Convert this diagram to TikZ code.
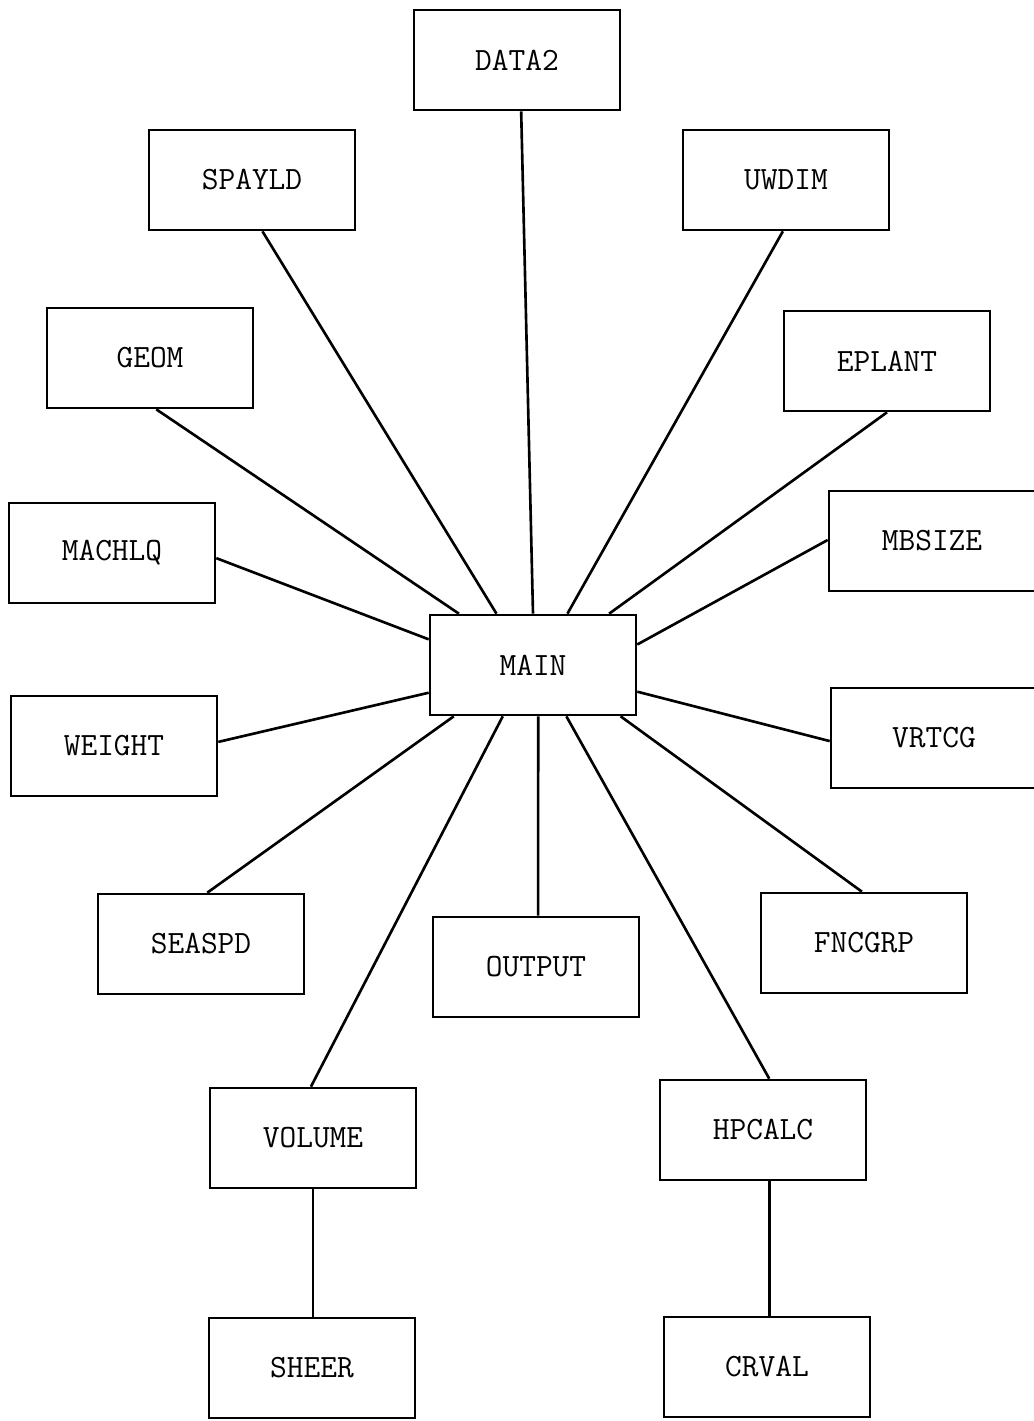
\documentclass[tikz,border=0pt]{standalone}
\usepackage{tikz}
\usetikzlibrary{calc}

\begin{document}
\begin{tikzpicture}[x=0.02cm, y=-0.02cm]
        % Define styles for the boxes and the links
        \tikzset{
            module/.style={draw, line width=1.5pt, minimum width=4.12cm, minimum height=2cm,
                inner sep=0pt, font=\fontsize{18.5}{22}\selectfont\ttfamily},
            link/.style={line width=1.5pt, black}
        }

        \useasboundingbox (0,0) rectangle (1034,1421);
        \clip (0,0) rectangle (1034,1421);

        % The main program in the middle
        \node[module] (main) at (533,665) {MAIN};

        % Routines above the main program
        \node[module] (data2) at (517,60) {DATA2};
        \node[module] (spayld) at (252,180) {SPAYLD};
        \node[module] (uwdim) at (786,180) {UWDIM};
        \node[module] (geom) at (150,358) {GEOM};
        \node[module] (eplant) at (887,361) {EPLANT};

        % Routines at the sides
        \node[module] (machlq) at (112,553) {MACHLQ};
        \node[module] (weight) at (114,746) {WEIGHT};
        \node[module] (mbsize) at (932,541) {MBSIZE};
        \node[module] (vrtcg) at (934,738) {VRTCG};

        % Routines below the main program
        \node[module] (seaspd) at (201,944) {SEASPD};
        \node[module] (output) at (536,967) {OUTPUT};
        \node[module] (fncgrp) at (864,943) {FNCGRP};
        \node[module] (volume) at (313,1138) {VOLUME};
        \node[module] (hpcalc) at (763,1130) {HPCALC};
        \node[module] (sheer) at (312,1368) {SHEER};
        \node[module] (crval) at (767,1367) {CRVAL};

        % Links from the top row into MAIN
        \foreach \n/\a/\b in {data2/0.52/0.50, spayld/0.55/0.325, uwdim/0.485/0.665,
                geom/0.53/0.145, eplant/0.50/0.865} {
            \draw[link] ($(\n.south west)!\a!(\n.south east)$) -- ($(main.north west)!\b!(main.north east)$);
        }

        % Links from the bottom row into MAIN
        \foreach \n/\a/\b in {seaspd/0.53/0.12, output/0.51/0.525, fncgrp/0.49/0.92,
                volume/0.49/0.355, hpcalc/0.53/0.66} {
            \draw[link] ($(\n.north west)!\a!(\n.north east)$) -- ($(main.south west)!\b!(main.south east)$);
        }

        % Links from the left side
        \foreach \n/\a/\b in {machlq/0.55/0.25, weight/0.46/0.77} {
            \draw[link] ($(\n.north east)!\a!(\n.south east)$) -- ($(main.north west)!\b!(main.south west)$);
        }

        % Links from the right side
        \foreach \n/\a/\b in {mbsize/0.49/0.30, vrtcg/0.53/0.76} {
            \draw[link] ($(\n.north west)!\a!(\n.south west)$) -- ($(main.north east)!\b!(main.south east)$);
        }

        % Second level calls
        \draw[link] (volume.south) -- (volume.south |- sheer.north);
        \draw[link] ($(hpcalc.south west)!0.53!(hpcalc.south east)$) coordinate (hp) -- (hp |- crval.north);

    \end{tikzpicture}
\end{document}
